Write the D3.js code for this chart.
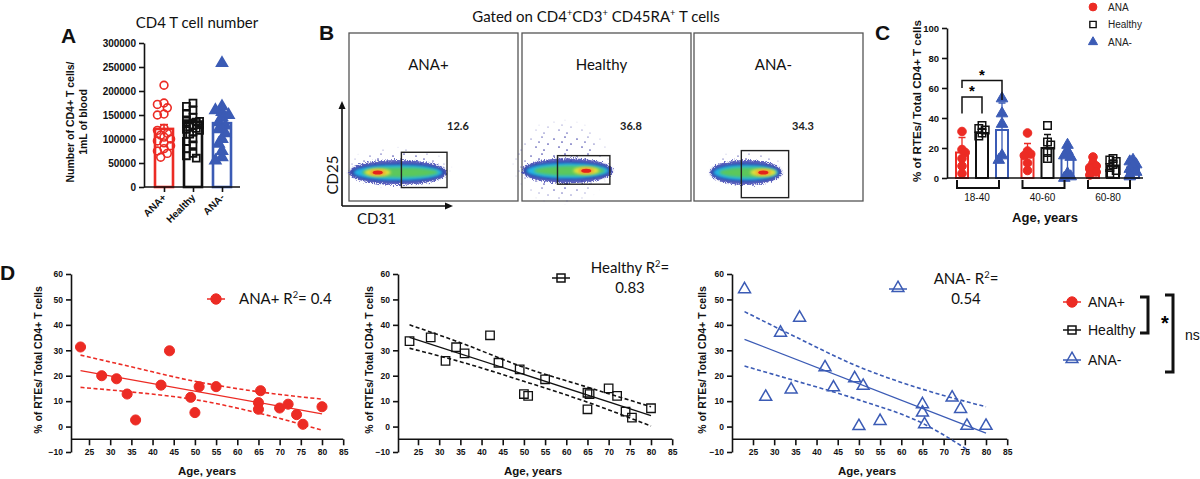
<!DOCTYPE html>
<html>
<head>
<meta charset="utf-8">
<script src="https://cdn.jsdelivr.net/npm/d3@7"></script>
<style>
  body { margin: 0; background: #fff; }
  svg { display: block; }
</style>
</head>
<body>
<div id="chart"></div>
<script>
// ---------- data ----------
var groupsA = ["ANA+", "Healthy", "ANA-"];
var countTicks = [0, 50000, 100000, 150000, 200000, 250000, 300000];
var countAnaPos = [212000, 175000, 172000, 165000, 152000, 150000, 122000, 118000, 112000, 108000,
                   104000, 100000, 96000, 92000, 86000, 80000, 75000, 70000, 62000];
var countHealthy = [175000, 168000, 160000, 152000, 145000, 140000, 137000, 135000, 132000, 130000,
                    128000, 125000, 122000, 120000, 118000, 115000, 110000, 100000, 95000, 88000,
                    80000, 70000, 65000, 60000];
var countAnaNeg = [258000, 168000, 160000, 156000, 150000, 145000, 135000, 128000, 120000, 112000,
                   100000, 90000, 75000, 62000, 55000];
var countMean = [121000, 135000, 133000];
var countSem = [9000, 6000, 13000];

var flowNames = ["ANA+", "Healthy", "ANA-"];
var flowPct = ["12.6", "36.8", "34.3"];
// gate: [CD31 from, CD31 to, CD25 from, CD25 to]
var flowGates = [[31, 58, 8, 29], [21, 52, 10, 27], [28, 56, 2, 30]];
// population: [CD31 from, CD31 to, CD31 of peak, CD25 centre, CD25 spread of sparse events]
var flowBlobs = [[0, 58, 17, 17, 13], [0, 54, 38, 18, 26], [9.5, 52, 41, 17, 11]];

var ageGroups = ["18-40", "40-60", "60-80"];
var rteTicks = [0, 20, 40, 60, 80, 100];
var rteAnaPos = [[31, 19, 17, 13, 8, 3], [30, 18, 16, 15, 10, 5], [14, 10, 8, 7, 6, 4, 2]];
var rteHealthy = [[35, 33, 32, 30, 28], [35, 24, 22, 17, 13], [13, 12, 11, 9, 7, 5, 3]];
var rteAnaNeg = [[53, 43, 36, 15, 12], [22, 18, 15, 14, 3, 1, 0], [12, 11, 9, 8, 6, 4, 2, 1]];
var rteMeanAnaPos = [17, 16, 7], rteSdAnaPos = [10, 7, 4];
var rteMeanHealthy = [30, 20, 8], rteSdHealthy = [3, 9, 4];
var rteMeanAnaNeg = [32, 14, 7], rteSdAnaNeg = [18, 8, 4];

var ageTicks = [25, 30, 35, 40, 45, 50, 55, 60, 65, 70, 75, 80, 85];
var pctTicks = [-10, 0, 10, 20, 30, 40, 50, 60];
var ageAnaPos = [23, 28, 31.5, 34, 36, 42, 44, 49, 50, 51, 55, 65, 65, 65.5, 70, 72, 74, 75.5, 80];
var pctAnaPos = [31.3, 20, 18.8, 12.8, 2.6, 16.3, 29.8, 11.5, 5.5, 15.7, 15.7, 9.4, 6.8, 14.1, 7.3, 8.8, 4.7, 0.9, 7.8];
var ageHealthy = [23, 28, 31.5, 34, 36, 42, 44, 49, 50, 51, 55, 65, 65, 65.5, 70, 72, 74, 75.5, 80];
var pctHealthy = [33.6, 35.1, 25.8, 31.2, 28.8, 35.9, 25.1, 22.5, 12.8, 12.1, 18.6, 13.3, 6.8, 12.8, 15, 12.1, 5.9, 3.5, 7.2];
var ageAnaNeg = [23, 28, 31.5, 34, 36, 42, 44, 49, 50, 51, 55, 65, 65, 65.5, 72, 74, 75.5, 80];
var pctAnaNeg = [54, 11.7, 36.9, 14.6, 42.8, 23.3, 15.4, 19, 0.2, 16, 2.2, 8.8, 5.5, 0.9, 11.4, 6.9, 0.3, 0.3];
// fitted line and 95% band
var fitAnaPos = [[23, 22], [80, 5]];
var bandHiAnaPos = [[23, 28.1], [35, 23.5], [50, 17.8], [65, 13.7], [80, 10.8]];
var bandLoAnaPos = [[23, 15.4], [35, 13.6], [50, 10.6], [65, 5.3], [80, -1.4]];
var fitHealthy = [[23, 35.1], [80, 4.3]];
var bandHiHealthy = [[23, 40], [35, 33], [50, 23.3], [65, 15.5], [80, 7.8]];
var bandLoHealthy = [[23, 30.8], [35, 25.5], [50, 17.8], [65, 9.6], [80, 0.2]];
var fitAnaNeg = [[23, 34.3], [80, -2.6]];
var bandHiAnaNeg = [[23, 45.2], [35, 35.3], [50, 23.5], [65, 14.7], [80, 7.8]];
var bandLoAnaNeg = [[23, 23.8], [35, 18], [50, 10.5], [65, 1.3], [76, -9.5]];
var r2Labels = ["0.4", "0.83", "0.54"];

// ---------- setup ----------
var RED = "#ec2b24", BLUE = "#3b5bb5", BLACK = "#111";
var ARIAL = "Liberation Sans, Arial, sans-serif";
var CALIBRI = "Lato, Open Sans, sans-serif";

var svg = d3.select("#chart").append("svg")
    .attr("width", 1200)
    .attr("height", 479)
    .attr("font-family", ARIAL);

var defs = svg.append("defs");
var grain = defs.append("filter").attr("id", "grain")
    .attr("x", "-20%").attr("y", "-60%").attr("width", "140%").attr("height", "220%");
grain.append("feTurbulence").attr("type", "fractalNoise").attr("baseFrequency", 0.9)
    .attr("numOctaves", 2).attr("seed", 4).attr("result", "n");
grain.append("feDisplacementMap").attr("in", "SourceGraphic").attr("in2", "n")
    .attr("scale", 7).attr("xChannelSelector", "R").attr("yChannelSelector", "G");
defs.append("filter").attr("id", "soft").attr("x", "-30%").attr("y", "-80%")
    .attr("width", "160%").attr("height", "260%")
  .append("feGaussianBlur").attr("stdDeviation", 1.6);
var pat = defs.append("pattern").attr("id", "sparse").attr("patternUnits", "userSpaceOnUse")
    .attr("width", 23).attr("height", 17);
[[2, 3], [13, 1], [19, 8], [7, 11], [15, 14], [10, 6]].forEach(function (p) {
  pat.append("circle").attr("cx", p[0]).attr("cy", p[1]).attr("r", 0.85).attr("fill", "#2f2fa0");
});
// fade the sparse events out towards the edge
var rg = defs.append("radialGradient").attr("id", "fade");
rg.append("stop").attr("offset", "0%").attr("stop-color", "#fff");
rg.append("stop").attr("offset", "60%").attr("stop-color", "#fff").attr("stop-opacity", 0.85);
rg.append("stop").attr("offset", "100%").attr("stop-color", "#fff").attr("stop-opacity", 0);
defs.append("mask").attr("id", "fadeMask").attr("maskContentUnits", "objectBoundingBox")
  .append("rect").attr("width", 1).attr("height", 1).attr("fill", "url(#fade)");

function styleAxis(g, fs) {
  g.attr("font-family", ARIAL);
  g.select(".domain").attr("stroke", BLACK).attr("stroke-width", 1.6);
  g.selectAll(".tick line").attr("stroke", BLACK).attr("stroke-width", 1.6);
  g.selectAll(".tick text").attr("fill", BLACK).attr("font-size", fs).attr("font-weight", "bold");
}

function mark(g, shape, x, y, color, size, filled, sw) {
  var type = shape === "circle" ? d3.symbolCircle : shape === "square" ? d3.symbolSquare : d3.symbolTriangle;
  return g.append("path")
      .attr("d", d3.symbol().type(type).size(size)())
      .attr("transform", "translate(" + x + "," + y + ")")
      .attr("fill", filled ? color : "none")
      .attr("stroke", color)
      .attr("stroke-width", sw);
}

// spread points sideways so they don't sit on top of each other
function dodge(values, yScale, r, step, maxK) {
  var placed = [];
  var order = [0, -1, 1, -2, 2, -3, 3];
  return values.map(function (v) {
    var y = yScale(v), best = null;
    for (var k = 0; k <= maxK; k++) {
      var cand = order[k] * step;
      var ok = placed.every(function (p) { return Math.hypot(p[0] - cand, p[1] - y) >= r * 1.3; });
      if (ok) { best = cand; break; }
    }
    if (best === null) best = order[placed.length % (maxK + 1)] * step;
    placed.push([best, y]);
    return [best, y];
  });
}

function supText(t, parts, fs) {
  var up = false;
  parts.forEach(function (p) {
    var s = t.append("tspan").text(p[0]);
    if (p[1]) { s.attr("font-size", fs * 0.62).attr("dy", -fs * 0.38); up = true; }
    else if (up) { s.attr("dy", fs * 0.38); up = false; }
  });
}

function panelLetter(x, y, s) {
  svg.append("text").attr("x", x).attr("y", y).attr("font-size", 21)
      .attr("font-weight", "bold").attr("fill", BLACK).text(s);
}

// ---------- A: CD4 T cell number ----------
var yA = d3.scaleLinear().domain([0, 300000]).range([187, 43]);
var xA = d3.scalePoint().domain(groupsA).range([164, 222]);
var gA = svg.append("g");
var colorsA = [RED, BLACK, BLUE];
var shapesA = ["circle", "square", "triangle"];
var valuesA = [countAnaPos, countHealthy, countAnaNeg];

panelLetter(61, 43, "A");
gA.append("text").attr("x", 197).attr("y", 28).attr("text-anchor", "middle")
    .attr("font-family", CALIBRI).attr("font-size", 15).attr("fill", BLACK).text("CD4 T cell number");

gA.selectAll(".barA").data(groupsA).enter().append("rect")
    .attr("x", function (d) { return xA(d) - 9; })
    .attr("y", function (d, i) { return yA(countMean[i]); })
    .attr("width", 18)
    .attr("height", function (d, i) { return yA(0) - yA(countMean[i]); })
    .attr("fill", "#fff")
    .attr("stroke", function (d, i) { return colorsA[i]; })
    .attr("stroke-width", 2.6);

groupsA.forEach(function (grp, i) {
  var cx = xA(grp);
  dodge(valuesA[i], yA, 4, 3.3, 4).forEach(function (p) {
    mark(gA, shapesA[i], cx + p[0], p[1], colorsA[i], i === 2 ? 52 : 48, i === 2, i === 1 ? 1.8 : 1.6);
  });
  var top = yA(countMean[i] + countSem[i]);
  gA.append("line").attr("x1", cx).attr("x2", cx).attr("y1", yA(countMean[i])).attr("y2", top)
      .attr("stroke", colorsA[i]).attr("stroke-width", 1.6);
  gA.append("line").attr("x1", cx - 4).attr("x2", cx + 4).attr("y1", top).attr("y2", top)
      .attr("stroke", colorsA[i]).attr("stroke-width", 1.6);
});

gA.append("g").attr("transform", "translate(144,0)")
    .call(d3.axisLeft(yA).tickValues(countTicks).tickSize(5).tickSizeOuter(0).tickFormat(d3.format("d")))
    .call(styleAxis, 10);
gA.append("g").attr("transform", "translate(0,187)")
    .call(d3.axisBottom(xA).tickSize(5).tickSizeOuter(0).tickFormat(""))
    .call(styleAxis, 10)
    .select(".domain").attr("d", "M144,0H240");
gA.selectAll(".labA").data(groupsA).enter().append("text")
    .attr("transform", function (d) { return "translate(" + (xA(d) + 3) + ",198) rotate(-45)"; })
    .attr("text-anchor", "end").attr("font-size", 10).attr("font-weight", "bold").attr("fill", BLACK)
    .text(function (d) { return d; });
var labA = gA.append("text").attr("transform", "translate(74,122) rotate(-90)")
    .attr("text-anchor", "middle").attr("font-size", 10.5).attr("font-weight", "bold").attr("fill", BLACK);
labA.append("tspan").attr("x", 0).attr("dy", 0).text("Number of CD4+ T cells/");
labA.append("tspan").attr("x", 0).attr("dy", 13).text("1mL of blood");

// ---------- B: flow cytometry ----------
var gB = svg.append("g");
panelLetter(319, 40, "B");
var titleB = gB.append("text").attr("x", 596).attr("y", 22).attr("text-anchor", "middle")
    .attr("font-family", CALIBRI).attr("font-size", 15).attr("fill", BLACK);
supText(titleB, [["Gated on CD4"], ["+", 1], ["CD3"], ["+", 1], [" CD45RA"], ["+", 1], [" T cells"]], 15);

var boxX = [349, 522, 694];
flowNames.forEach(function (name, i) {
  var xF = d3.scaleLinear().domain([0, 100]).range([boxX[i], boxX[i] + 169]);
  var yF = d3.scaleLinear().domain([0, 100]).range([201, 33]);
  var b = flowBlobs[i], gt = flowGates[i];
  var g = gB.append("g");
  g.append("rect").attr("x", xF(0)).attr("y", yF(100)).attr("width", xF(100) - xF(0))
      .attr("height", yF(0) - yF(100)).attr("fill", "#fff").attr("stroke", "#555").attr("stroke-width", 1.3);

  var x0 = xF(b[0]), x1 = xF(b[1]), cx = (x0 + x1) / 2, rx = (x1 - x0) / 2, cy = yF(b[3]);
  var hx = xF(b[2]), spread = yF(0) - yF(b[4]);
  // sparse events around the main population
  var hw = rx * 1.12, hh = spread;
  g.append("rect").attr("x", cx - hw - (i === 1 ? 6 : 0)).attr("y", cy - hh * 1.2)
      .attr("width", hw * 2).attr("height", hh * 2)
      .attr("fill", "url(#sparse)").attr("mask", "url(#fadeMask)");
  g.append("ellipse").attr("cx", cx).attr("cy", cy).attr("rx", rx).attr("ry", 12.5)
      .attr("fill", "#3d42b2").attr("filter", "url(#grain)").attr("opacity", 0.8);
  g.append("ellipse").attr("cx", cx).attr("cy", cy).attr("rx", rx * 0.97).attr("ry", 9.5)
      .attr("fill", "#2c35a0").attr("filter", "url(#soft)");
  g.append("ellipse").attr("cx", cx).attr("cy", cy).attr("rx", rx * 0.91).attr("ry", 7.8)
      .attr("fill", "#22b5e6").attr("filter", "url(#soft)");
  g.append("ellipse").attr("cx", cx + rx * 0.04).attr("cy", cy).attr("rx", rx * 0.78).attr("ry", 5)
      .attr("fill", "#5cc85c").attr("filter", "url(#soft)");
  g.append("ellipse").attr("cx", hx).attr("cy", cy).attr("rx", 13).attr("ry", 3.8)
      .attr("fill", "#e6e23a").attr("filter", "url(#soft)");
  g.append("ellipse").attr("cx", hx).attr("cy", cy).attr("rx", 8).attr("ry", 2.8)
      .attr("fill", "#f29a2a").attr("filter", "url(#soft)");
  g.append("ellipse").attr("cx", hx).attr("cy", cy).attr("rx", 5).attr("ry", 2)
      .attr("fill", "#e3221c");

  g.append("rect").attr("x", xF(gt[0])).attr("y", yF(gt[3])).attr("width", xF(gt[1]) - xF(gt[0]))
      .attr("height", yF(gt[2]) - yF(gt[3])).attr("fill", "none").attr("stroke", "#222").attr("stroke-width", 1.4);

  g.append("text").attr("x", xF(47)).attr("y", 70).attr("text-anchor", "middle")
      .attr("font-family", CALIBRI).attr("font-size", 15).attr("fill", BLACK).text(name);
  g.append("text").attr("x", xF(64.5)).attr("y", 130).attr("text-anchor", "middle")
      .attr("font-family", CALIBRI).attr("font-size", 11).attr("font-weight", "bold").attr("fill", "#222")
      .text(flowPct[i]);
});
// CD31 / CD25 arrows
gB.append("path").attr("d", "M342,206V105M342,206H449").attr("fill", "none")
    .attr("stroke", BLACK).attr("stroke-width", 1.6);
gB.append("path").attr("d", "M338.5,109L342,101L345.5,109Z").attr("fill", BLACK);
gB.append("path").attr("d", "M445,202.5L453,206L445,209.5Z").attr("fill", BLACK);
gB.append("text").attr("transform", "translate(338,175) rotate(-90)").attr("text-anchor", "middle")
    .attr("font-family", CALIBRI).attr("font-size", 15).attr("fill", BLACK).text("CD25");
gB.append("text").attr("x", 357).attr("y", 224).attr("font-family", CALIBRI).attr("font-size", 15)
    .attr("fill", BLACK).text("CD31");

// ---------- C: RTEs by age group ----------
var gC = svg.append("g");
panelLetter(875, 40, "C");
var yC = d3.scaleLinear().domain([0, 100]).range([178, 28]);
var xC = d3.scalePoint().domain(ageGroups).range([982, 1113]);
var offC = [-20, 0, 20];
var colorsC = [RED, BLACK, BLUE];
var shapesC = ["circle", "square", "triangle"];
var valsC = [rteAnaPos, rteHealthy, rteAnaNeg];
var meansC = [rteMeanAnaPos, rteMeanHealthy, rteMeanAnaNeg];
var sdsC = [rteSdAnaPos, rteSdHealthy, rteSdAnaNeg];

ageGroups.forEach(function (ag, j) {
  [0, 1, 2].forEach(function (s) {
    var cx = xC(ag) + offC[s], m = meansC[s][j], sd = sdsC[s][j];
    gC.append("rect").attr("x", cx - 6).attr("y", yC(m)).attr("width", 12).attr("height", yC(0) - yC(m))
        .attr("fill", "#fff").attr("stroke", colorsC[s]).attr("stroke-width", 2);
    gC.append("path")
        .attr("d", "M" + cx + "," + yC(Math.max(0, m - sd)) + "V" + yC(m + sd) +
                   "M" + (cx - 3.5) + "," + yC(m + sd) + "H" + (cx + 3.5))
        .attr("fill", "none").attr("stroke", colorsC[s]).attr("stroke-width", 1.3);
    dodge(valsC[s][j], yC, 4.2, 3.2, 2).forEach(function (p) {
      mark(gC, shapesC[s], cx + p[0], p[1], colorsC[s], s === 1 ? 56 : 58, s !== 1, s === 1 ? 1.5 : 1);
    });
  });
  var c = xC(ag);
  gC.append("path").attr("d", "M" + (c - 25) + ",180V188H" + (c + 17) + "V180")
      .attr("fill", "none").attr("stroke", BLACK).attr("stroke-width", 2);
  gC.append("text").attr("x", c - 5).attr("y", 201).attr("text-anchor", "middle").attr("font-size", 10)
      .attr("fill", BLACK).text(ag);
});
gC.append("g").attr("transform", "translate(947,0)")
    .call(d3.axisLeft(yC).tickValues(rteTicks).tickSize(5).tickSizeOuter(0))
    .call(styleAxis, 9.5);
gC.append("line").attr("x1", 947).attr("x2", 1143).attr("y1", 178).attr("y2", 178)
    .attr("stroke", BLACK).attr("stroke-width", 1.6);
// significance brackets
var c0 = xC(ageGroups[0]);
gC.append("path").attr("d", "M" + (c0 - 20) + "," + yC(43) + "V" + yC(54) + "H" + c0 + "V" + yC(43))
    .attr("fill", "none").attr("stroke", BLACK).attr("stroke-width", 1.5);
gC.append("path").attr("d", "M" + (c0 - 20) + "," + yC(60) + "V" + yC(65) + "H" + (c0 + 20) + "V" + yC(52))
    .attr("fill", "none").attr("stroke", BLACK).attr("stroke-width", 1.5);
gC.append("text").attr("x", c0 - 10).attr("y", yC(54) - 1).attr("text-anchor", "middle")
    .attr("font-size", 15).attr("font-weight", "bold").text("*");
gC.append("text").attr("x", c0).attr("y", yC(65) - 1).attr("text-anchor", "middle")
    .attr("font-size", 15).attr("font-weight", "bold").text("*");
gC.append("text").attr("transform", "translate(921,101) rotate(-90)").attr("text-anchor", "middle")
    .attr("font-size", 11.5).attr("font-weight", "bold").attr("fill", BLACK).text("% of RTEs/ Total CD4+ T cells");
gC.append("text").attr("x", 1045).attr("y", 222).attr("text-anchor", "middle").attr("font-size", 13)
    .attr("font-weight", "bold").attr("fill", BLACK).text("Age, years");
// legend
["ANA", "Healthy", "ANA-"].forEach(function (name, s) {
  var y = 7 + s * 17.5;
  mark(gC, shapesC[s], 1093, y, colorsC[s], s === 1 ? 40 : s === 2 ? 36 : 48, s !== 1, s === 1 ? 1.4 : 1);
  gC.append("text").attr("x", 1108).attr("y", y + 3.5).attr("font-size", 10).attr("fill", "#222").text(name);
});

// ---------- D: RTEs vs age ----------
panelLetter(0, 280, "D");
var yD = d3.scaleLinear().domain([-10, 60]).range([452, 274]);
var plotsD = [
  {left: 71, x25: 89, lab: 42, mid: 207, age: ageAnaPos, pct: pctAnaPos, fit: fitAnaPos, hi: bandHiAnaPos, lo: bandLoAnaPos,
   color: RED, shape: "circle"},
  {left: 398, x25: 418, lab: 373, mid: 533, age: ageHealthy, pct: pctHealthy, fit: fitHealthy, hi: bandHiHealthy, lo: bandLoHealthy,
   color: BLACK, shape: "square"},
  {left: 732, x25: 753, lab: 706, mid: 867, age: ageAnaNeg, pct: pctAnaNeg, fit: fitAnaNeg, hi: bandHiAnaNeg, lo: bandLoAnaNeg,
   color: BLUE, shape: "triangle"}
];

function drawLegendMark(g, shape, x, y, color) {
  g.append("line").attr("x1", x - 9).attr("x2", x + 9).attr("y1", y).attr("y2", y)
      .attr("stroke", color).attr("stroke-width", 1.5);
  if (shape === "circle") mark(g, "circle", x, y, color, 85, true, 1);
  else if (shape === "square") mark(g, "square", x, y, color, 64, false, 1.5);
  else mark(g, "triangle", x, y - 1, color, 60, false, 1.5);
}

plotsD.forEach(function (p, k) {
  var g = svg.append("g");
  var xD = d3.scaleLinear().domain([25, 80]).range([p.x25, p.x25 + 233]);
  var line = d3.line().x(function (d) { return xD(d[0]); }).y(function (d) { return yD(d[1]); });
  var curve = d3.line().curve(d3.curveMonotoneX).x(function (d) { return xD(d[0]); }).y(function (d) { return yD(d[1]); });

  g.append("g").attr("transform", "translate(" + p.left + ",0)")
      .call(d3.axisLeft(yD).tickValues(pctTicks).tickSize(5).tickSizeOuter(0))
      .call(styleAxis, 8.5);
  var xa = g.append("g").attr("transform", "translate(0," + yD(-5) + ")")
      .call(d3.axisBottom(xD).tickValues(ageTicks).tickSize(6).tickSizeOuter(0).tickPadding(4))
      .call(styleAxis, 8.5);
  xa.select(".domain").attr("d", "M" + p.left + ",0H" + xD(85));

  g.append("path").attr("d", line(p.fit)).attr("fill", "none").attr("stroke", p.color).attr("stroke-width", 1.3);
  [p.hi, p.lo].forEach(function (band) {
    g.append("path").attr("d", curve(band)).attr("fill", "none").attr("stroke", p.color)
        .attr("stroke-width", 1.6).attr("stroke-dasharray", "4,2.5");
  });
  p.age.forEach(function (a, i) {
    if (p.shape === "circle") mark(g, "circle", xD(a), yD(p.pct[i]), p.color, 80, true, 1);
    else if (p.shape === "square") mark(g, "square", xD(a), yD(p.pct[i]), p.color, 72, false, 1.3);
    else mark(g, "triangle", xD(a), yD(p.pct[i]), p.color, 62, false, 1.5);
  });

  g.append("text").attr("transform", "translate(" + p.lab + ",360) rotate(-90)").attr("text-anchor", "middle")
      .attr("font-size", 10.5).attr("font-weight", "bold").attr("fill", BLACK).text("% of RTEs/ Total CD4+ T cells");
  g.append("text").attr("x", p.mid).attr("y", 475).attr("text-anchor", "middle").attr("font-size", 11.5)
      .attr("font-weight", "bold").attr("fill", BLACK).text("Age, years");

  // in-plot legend
  if (k === 0) {
    drawLegendMark(g, "circle", 216, 299, RED);
    var t = g.append("text").attr("x", 239).attr("y", 304).attr("font-family", CALIBRI)
        .attr("font-size", 15).attr("fill", BLACK);
    supText(t, [["ANA+ R"], ["2", 1], ["= " + r2Labels[0]]], 15);
  } else {
    var lx = k === 1 ? 561 : 898, ly = k === 1 ? 278 : 289, tx = k === 1 ? 630 : 966, ty = k === 1 ? 273 : 284;
    drawLegendMark(g, p.shape, lx, ly, p.color);
    var t2 = g.append("text").attr("x", tx).attr("y", ty).attr("text-anchor", "middle")
        .attr("font-family", CALIBRI).attr("font-size", 15).attr("fill", BLACK);
    supText(t2, [[k === 1 ? "Healthy R" : "ANA- R"], ["2", 1], ["="]], 15);
    g.append("text").attr("x", tx).attr("y", ty + 20).attr("text-anchor", "middle")
        .attr("font-family", CALIBRI).attr("font-size", 15).attr("fill", BLACK).text(r2Labels[k]);
  }
});

// right-hand legend with brackets
var gL = svg.append("g");
["ANA+", "Healthy", "ANA-"].forEach(function (name, s) {
  var y = [302, 330, 360][s];
  drawLegendMark(gL, ["circle", "square", "triangle"][s], 1072, y, [RED, BLACK, BLUE][s]);
  gL.append("text").attr("x", 1088).attr("y", y + 5).attr("font-size", 14).attr("fill", BLACK).text(name);
});
gL.append("path").attr("d", "M1140,297H1148V333H1140").attr("fill", "none").attr("stroke", BLACK).attr("stroke-width", 3);
gL.append("path").attr("d", "M1165,295H1173V372H1165").attr("fill", "none").attr("stroke", BLACK).attr("stroke-width", 3);
gL.append("text").attr("x", 1165).attr("y", 330).attr("text-anchor", "middle").attr("font-size", 20)
    .attr("font-weight", "bold").text("*");
gL.append("text").attr("x", 1185).attr("y", 340).attr("font-size", 14).attr("fill", BLACK).text("ns");
</script>
</body>
</html>
